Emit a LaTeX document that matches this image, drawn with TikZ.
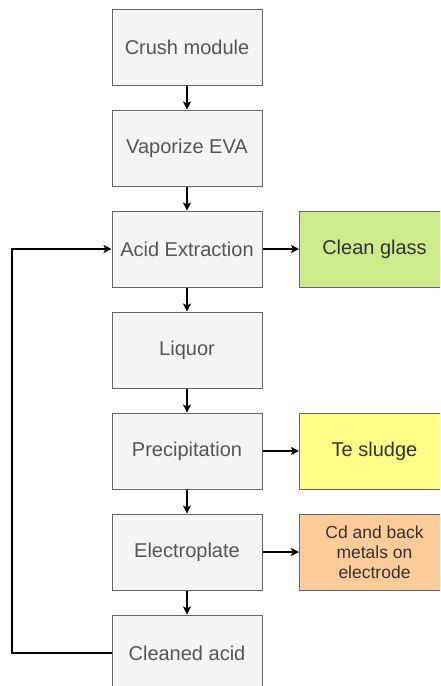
\documentclass[tikz,border=0pt]{standalone}
\usepackage{fontspec}
\setmainfont{Liberation Sans}
\usetikzlibrary{arrows.meta}
\definecolor{boxfill}{HTML}{F5F5F5}
\definecolor{boxline}{HTML}{666666}
\definecolor{boxtext}{HTML}{555555}
\definecolor{darktext}{HTML}{333333}
\definecolor{greenfill}{HTML}{CDEB8B}
\definecolor{yellowfill}{HTML}{FFFF88}
\definecolor{orangefill}{HTML}{FFCC99}
\begin{document}
\begin{tikzpicture}[x=1pt,y=-1pt,
  stepbox/.style={draw=boxline, fill=boxfill, line width=1pt, minimum width=150pt, minimum height=76pt,
    inner sep=0pt, text=boxtext, font=\fontsize{20}{24}\selectfont},
  outbox/.style={draw=boxline, line width=1pt, minimum width=150pt, minimum height=76pt,
    inner sep=0pt, text=darktext, font=\fontsize{20}{24}\selectfont, anchor=west},
  flow/.style={draw=black, line width=1.1pt, -{Stealth[length=8pt,width=8pt,inset=2pt]}},
  plain/.style={draw=black, line width=1.1pt}]
\useasboundingbox (0,0) rectangle (440,686);
\clip (0,0) rectangle (440,686);
\fill[white] (0,0) rectangle (440,686);
\node[stepbox] (crush) at (187,47) {Crush module};
\node[stepbox] (vap) at (187,148) {Vaporize EVA};
\node[stepbox] (acid) at (187,249) {Acid Extraction};
\node[stepbox] (liq) at (187,350) {Liquor};
\node[stepbox] (prec) at (187,451) {Precipitation};
\node[stepbox] (elec) at (187,552) {Electroplate};
\node[stepbox] (clean) at (187,653) {Cleaned acid};
\node[outbox, fill=greenfill] (glass) at (299,249) {Clean glass};
\node[outbox, fill=yellowfill] (te) at (299,451) {Te sludge};
\node[outbox, fill=orangefill, align=center, font=\fontsize{17.5}{20}\selectfont] (cd) at (299,552) {Cd and back\\metals on\\electrode};
\draw[flow] (crush) -- (vap);
\draw[flow] (vap) -- (acid);
\draw[flow] (acid) -- (liq);
\draw[flow] (liq) -- (prec);
\draw[flow] (prec) -- (elec);
\draw[flow] (elec) -- (clean);
\draw[flow] (acid) -- (glass);
\draw[flow] (prec) -- (te);
\draw[flow] (elec) -- (cd);
\coordinate (loopb) at (12,653);
\coordinate (loopt) at (12,249);
\draw[flow] (clean.west) -- (loopb) -- (loopt) -- (acid.west);
\end{tikzpicture}
\end{document}
